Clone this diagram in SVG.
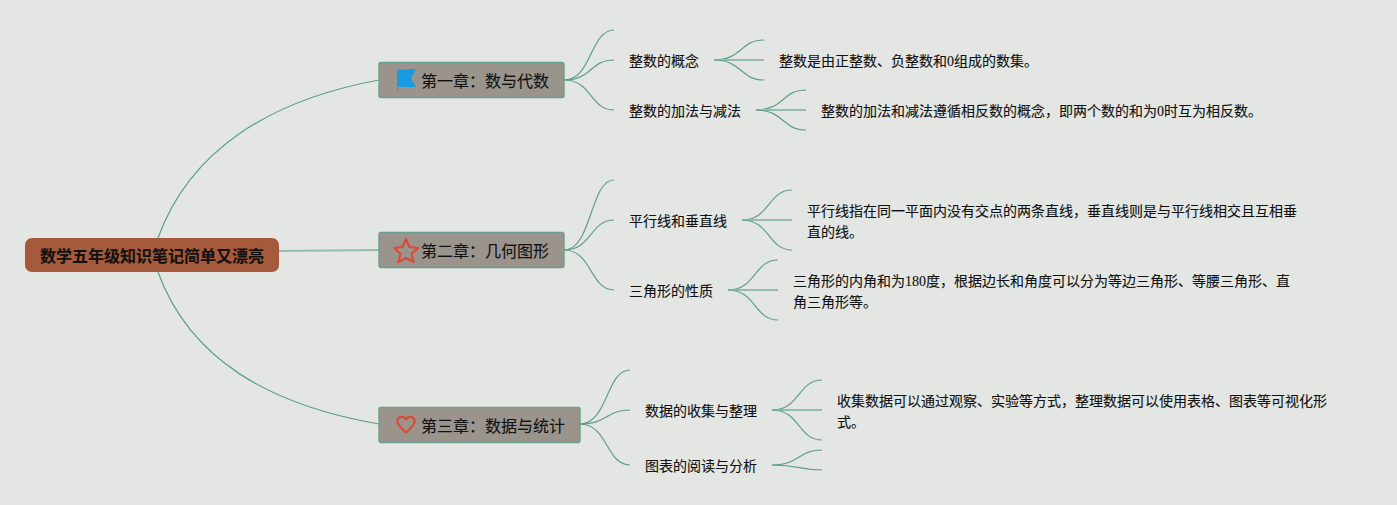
<svg xmlns="http://www.w3.org/2000/svg" width="1397" height="505" viewBox="0 0 1397 505">
<style>
text{font-family:"Liberation Serif","Noto Sans CJK SC",sans-serif;fill:#111;stroke:#111;stroke-width:.12}
.root{font-size:16px;font-weight:700}
.ch{font-size:16px}
.t{font-size:14px}
.c path{fill:none;stroke:#5f9f8c;stroke-width:1.200}
.c path.h{stroke:#97bbb0;stroke-width:1.800}
.box{fill:#9a948c;stroke:#69a08f;stroke-width:1.400}
.ic{fill:none;stroke:#dc4a35;stroke-width:2.200;stroke-linejoin:round}
</style>
<rect width="1397" height="505" fill="#e3e6e3"/>
<g id="connectors" class="c">
<path d="M158 238C190 150 270 100 379 80"/>
<path class="h" d="M279 251L379 250"/>
<path d="M158 272C190 360 270 405 379 424"/>
<path d="M564 80C592 80 590 30 614 30"/>
<path d="M564 80C592 80 590 60 614 60"/>
<path d="M564 80C592 80 590 110 614 110"/>
<path d="M714 60C742 60 740 40 764 40"/>
<path class="h" d="M714 60H764"/>
<path d="M714 60C742 60 740 80 764 80"/>
<path d="M756 110C784 110 782 90 806 90"/>
<path class="h" d="M756 110H806"/>
<path d="M756 110C784 110 782 130 806 130"/>
<path d="M564 250C592 250 590 180 614 180"/>
<path d="M564 250C592 250 590 220 614 220"/>
<path d="M564 250C592 250 590 290 614 290"/>
<path d="M742 220C770 220 768 190 792 190"/>
<path class="h" d="M742 220H792"/>
<path d="M742 220C770 220 768 250 792 250"/>
<path d="M728 290C756 290 754 260 778 260"/>
<path class="h" d="M728 290H778"/>
<path d="M728 290C756 290 754 320 778 320"/>
<path d="M580 424C608 424 606 370 630 370"/>
<path d="M580 424C608 424 606 410 630 410"/>
<path d="M580 424C608 424 606 465 630 465"/>
<path d="M772 410C800 410 798 380 822 380"/>
<path class="h" d="M772 410H822"/>
<path d="M772 410C800 410 798 440 822 440"/>
<path d="M772 465C800 465 798 450 822 450"/>
<path d="M772 465C800 465 798 470 822 470"/>
</g>
<g id="root"><rect x="25" y="238" width="254" height="34" rx="7" fill="#a55a3c"/><text class="root" x="40" y="261.500">数学五年级知识笔记简单又漂亮</text></g>
<g id="ch1"><rect class="box" x="379" y="62.500" width="185" height="35" rx="2"/>
<path d="M397 70L416 69L411 78L416 87L398 87V91H397Z" fill="#1a9be0"/>
<text class="ch" x="421" y="87">第一章：数与代数</text></g>
<g id="n11"><text class="t" x="629" y="66">整数的概念</text></g>
<g id="n111"><text class="t" x="779" y="66">整数是由正整数、负整数和0组成的数集。</text></g>
<g id="n12"><text class="t" x="629" y="116">整数的加法与减法</text></g>
<g id="n121"><text class="t" x="821" y="116">整数的加法和减法遵循相反数的概念，即两个数的和为0时互为相反数。</text></g>
<g id="ch2"><rect class="box" x="379" y="232.500" width="185" height="35" rx="2"/>
<path class="ic" d="M406 239L409.500 247L418 248L411.500 254L413.500 262L406 258L398.500 262L400.500 254L394.500 248L402.500 247Z"/>
<text class="ch" x="421" y="257">第二章：几何图形</text></g>
<g id="n21"><text class="t" x="629" y="226">平行线和垂直线</text></g>
<g id="n211"><text class="t"><tspan x="807" y="216">平行线指在同一平面内没有交点的两条直线，垂直线则是与平行线相交且互相垂</tspan><tspan x="807" y="237">直的线。</tspan></text></g>
<g id="n22"><text class="t" x="629" y="296">三角形的性质</text></g>
<g id="n221"><text class="t"><tspan x="793" y="286">三角形的内角和为180度，根据边长和角度可以分为等边三角形、等腰三角形、直</tspan><tspan x="793" y="307">角三角形等。</tspan></text></g>
<g id="ch3"><rect class="box" x="379" y="407.500" width="201" height="35" rx="2"/>
<path class="ic" d="M406 432.500C402 428.500 397.500 425.500 397.500 421.500C397.500 416 404 415.500 406 419.500C408 415.500 414.500 416 414.500 421.500C414.500 425.500 410 428.500 406 432.500Z"/>
<text class="ch" x="421" y="432">第三章：数据与统计</text></g>
<g id="n31"><text class="t" x="645" y="416">数据的收集与整理</text></g>
<g id="n311"><text class="t"><tspan x="837" y="406">收集数据可以通过观察、实验等方式，整理数据可以使用表格、图表等可视化形</tspan><tspan x="837" y="427">式。</tspan></text></g>
<g id="n32"><text class="t" x="645" y="471">图表的阅读与分析</text></g>
</svg>
